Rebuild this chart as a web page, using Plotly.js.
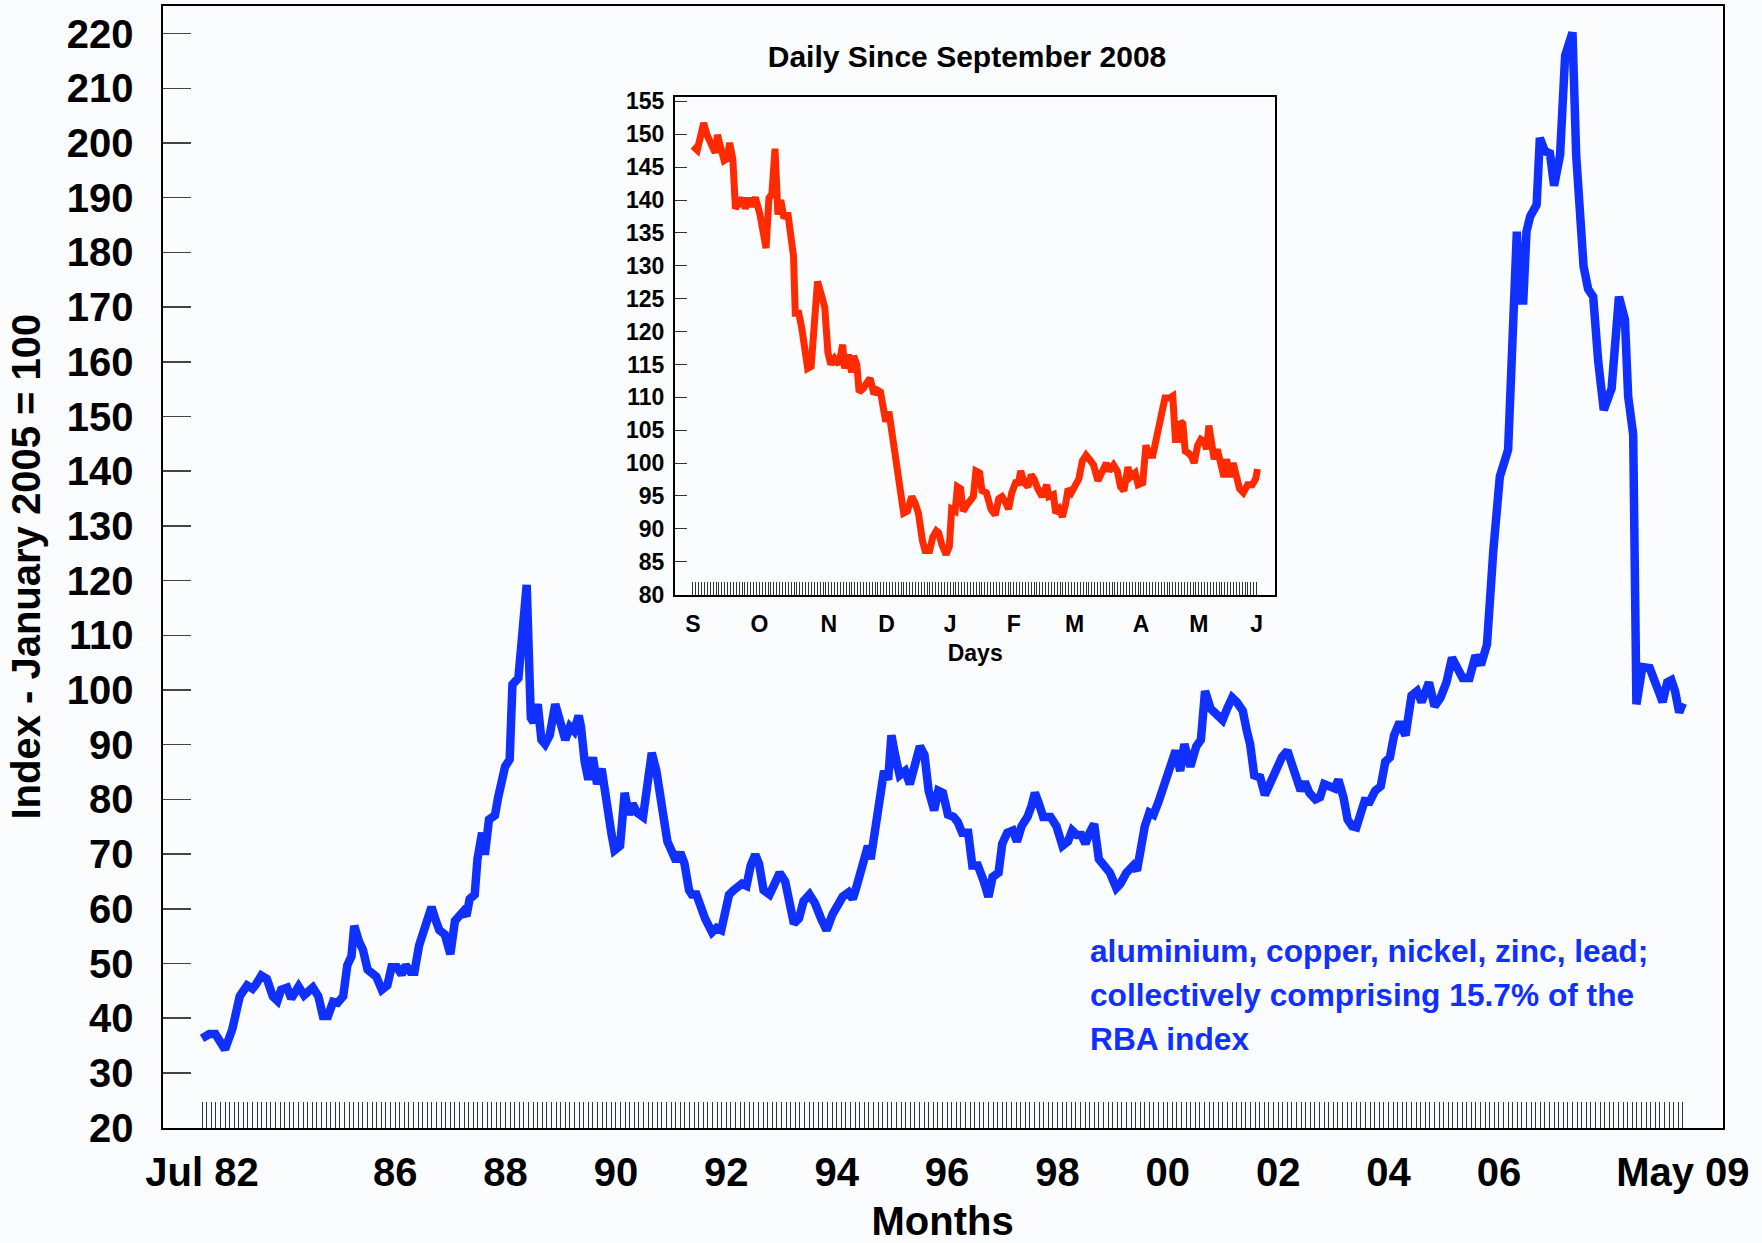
<!DOCTYPE html>
<html>
<head>
<meta charset="utf-8">
<script src="https://cdn.plot.ly/plotly-3.0.1.min.js"></script>
<style>html,body{margin:0;padding:0;background:#fafcfe;}</style>
</head>
<body>
<div id="chart" style="width:1762px;height:1243px;"></div>
<script>
// Monthly metals index (months since Jul 1982)
const monthIdx = [0,1.6,2.9,5,6.6,8.2,9.8,11,11.6,12.9,14.1,15.4,16.4,17.2,18.5,19.4,21,22.2,24.1,25.3,26.3,27.4,28.5,29.5,30.7,31.6,32.5,33.1,34.1,35,36,37.9,39.1,40.3,41.2,42.4,43.4,44.3,45.3,46.2,47.2,48.2,49.1,49.9,50.7,51.6,52.8,54,55,55.9,56.8,57.5,58.2,59.3,59.9,60.9,61.5,62.4,63.7,64.4,65.3,65.9,66.9,67.5,68.8,69.6,70.6,71.5,72.1,73,73.8,74.6,75.6,76.8,77.8,79,80,80.9,81.9,82.4,83.2,84,85,85.9,86.9,87.8,89,89.7,90.9,91.9,92.8,93.6,94.6,95.9,96.9,97.8,98.8,99.6,100.6,101.2,102.1,103.1,104,104.9,105.9,106.5,107.5,108.1,109.4,110.9,111.9,112.9,113.6,114.6,115.6,116.5,117.4,118.4,119.3,120.3,121.1,122.1,123.4,124.3,125.6,126.8,127.7,128.7,129.8,130.8,132.1,133.3,134.6,135.8,137.1,138.3,139.3,140.6,141.5,142.1,143.1,143.9,144.8,145.4,146.4,147.3,148.3,149.2,149.9,150.8,151.7,152.9,153.9,155.2,156.1,157.1,158,159.2,160.1,161.1,162.2,163.4,164.3,165.3,166.6,167.5,168.7,170,171,171.9,173.2,174,175.1,176.3,177.2,178.2,179.5,180.4,181.1,182,182.9,184.5,185.8,187.1,188.3,189.2,190.2,191.2,192.1,193,194,195,196.3,197.4,198.8,199.7,201,202.5,203.3,204.1,205,206,206.9,208,208.8,209.8,210.9,211.7,212.7,213.6,214.9,216.2,217.2,218.1,219.3,220.6,221.9,222.9,224,225,226.3,227.2,227.9,228.8,230.1,231.1,232.2,233.6,234.8,236,237,238.1,238.9,239.8,240.8,242.1,243.1,244,245.3,246.3,247.1,248.2,249.1,250.1,251,252,252.8,253.9,255.1,256.3,257.3,258.3,259.2,260.4,261.7,263,264.2,265.2,266.8,268,269.3,270.6,271.8,273.1,274.1,275.6,276.9,278.1,279.4,280.8,282.2,284,285.9,286.6,287.3,288,288.8,290.2,290.9,292,293.1,294,295.3,296.4,298,298.8,300.4,301.4,302.5,303.6,304.8,306.5,308.1,309.4,310.1,311.2,311.9,313.2,314.8,316.7,317.6,318.6,319.5,320.3,321.2,322];
const metalsIndex = [36.3,37.1,37.1,34.3,38,44,46,45.4,46,47.8,47.2,44,43.2,45.2,45.6,43.6,45.8,44.2,45.6,44,40.4,40.4,43,42.8,44,49.7,51.3,56.9,54.1,52.5,48.9,47.6,45.2,46,49.3,49.3,48,49.7,48.5,48.5,53.3,56.1,58.2,60.3,58.2,56.1,55.3,51.7,57.8,58.6,59.5,58.7,61.8,62.6,69.1,73.9,69.9,76.3,77.1,80.4,83.2,86,87.3,101,102.2,109.5,119.2,94.9,94.1,97.4,90.9,90.1,91.7,97.4,94.1,90.9,93.3,92.5,95.3,93.3,86.9,83.6,87.7,82.8,85.6,79.6,73.9,70.7,71.5,81.2,77.2,79.2,77.6,76.8,82.8,88.5,85.2,79.6,75.5,72.3,70.7,68.7,70.3,68.3,63.4,62.6,62.6,61,58.2,55.7,56.5,56.1,59.4,62.6,63.4,64.2,64.6,64.2,67.9,69.9,68.3,63.4,62.6,64.2,66.6,65,60.2,57.3,58.2,61.4,62.6,61,58.2,56.1,59,60.6,62.2,63,61.8,63.4,66.2,69.1,71.5,69.1,75.1,79.6,85.2,83.6,91.7,87.7,84.4,85.2,82.8,86.9,89.7,88.1,81.6,78,81.6,81.2,77.2,76.8,75.9,73.9,73.9,67.9,67.9,65,62.2,65.8,66.6,71.9,73.9,74.3,72.3,75.1,76.8,78.9,81.2,79.2,76.8,76.8,75.1,71.5,72.3,74.3,73.5,73.5,71.9,73.9,75.5,69.1,67.5,66.6,63.8,64.6,66.6,67.9,67,71.9,75.1,77.6,77.2,79.6,81.6,84,87.7,88.9,85.2,90.1,86,89.7,90.9,99.8,96.6,95.3,94.5,96.6,98.6,97.8,96.2,92.5,90.1,84.4,84,80.8,82.8,86,87.7,88.9,86,82.8,81.6,83.2,81.2,80,80.4,82.8,82.4,82,83.6,80.4,76.3,75.1,74.9,77.2,79.7,79.6,81.6,82.4,86.9,87.7,91.7,94.1,91.7,99,99.8,97.8,101.4,97,98.6,101.4,105.9,103.8,102.2,102.2,106.3,104.6,108.3,125.7,139,143.9,183.8,171.2,171.2,183.8,186.6,188.7,200.9,198.5,198.1,192.2,197.8,216,220.2,197.8,177.5,173.3,171.9,160,151.2,155.1,171.9,167.7,153.7,146.7,97.4,104.2,104,99.8,97.8,101.4,101.8,99.8,95.9,97.6];

// Daily index since September 2008 (trading days from 1 Sep 2008)
const dayIdx = [0,1.5,2.6,3.7,4.9,6.5,7.7,8.5,9.6,10.8,11.9,12.7,13.8,14.7,15.8,17,18.1,19.3,20.4,21.6,23.2,24.3,25.3,26.3,27.3,28.4,29.4,30.4,31.5,32.8,33.8,34.8,35.4,36.6,37.7,38.6,39.7,40.9,42,43.1,44.3,45.6,46.7,47.7,49,50.5,51.8,52.5,53.8,54.9,55.6,56.7,57.5,59,60.3,61.3,62.6,63.7,64.9,66,66.7,67.8,69.1,70.1,71.4,72.9,74.2,75.7,76.8,78,79.4,80.3,81.9,83,84.2,85,86.1,87.6,88.7,89.5,90.7,91.5,92.6,93.5,94.9,96.1,97,97.9,99.2,100,101.5,103.1,104.6,105.8,106.9,108.2,109.2,110.3,111.6,112.6,113.4,114.6,115.9,117,118,119.3,120.8,122.4,123.1,124.7,125.5,126.7,127.8,128.9,129.8,130.9,132.1,133.5,134.7,136,137.1,138.6,140.1,141.7,143,144,145.5,146.8,147.9,149.1,150.5,151.4,153,154,155.6,156.7,157.9,159.1,160.7,162.2,163.3,164.9,166,166.9,168,168.7,169.5,170.3,171.5,172.6,173.4,174.6,175.7,176.8,177.7,178.5,179.5,180.3,181.4,182.6,183.7,184.6,185.7,186.9,188,189.1,190.4,191.9,193.5,194.7,195.3];
const dailyIndex = [148.2,147.6,149.6,151.7,149.9,148.4,147.2,149.9,148.4,146,146.3,148.7,146.3,138.7,139.4,140.3,138.7,140.3,139,140.4,137.8,135.4,132.7,140.3,140.9,147.8,137.8,140,137.2,138.1,134.2,131.5,122.8,122.8,120.4,116.8,114.4,114.7,121.6,127.6,125.8,123.7,116.8,115,115.9,115,118,114.4,116.5,113.8,116.3,115,110.8,111.4,112.3,112.9,110.5,111.1,110.8,106.9,106.3,107.8,104.2,100,96.4,92.4,92.7,94.9,94,92.4,88.2,86.7,86.7,88.8,89.7,89.4,87.6,86.1,87.3,93,92.7,96.4,96.1,92.7,93.7,94.6,94.9,98.8,98.5,95.8,95.5,93,92.1,94.6,94.9,94,93,95.5,97,97,98.8,97,96.4,98.2,97.6,96.1,94.9,96.7,94.9,95.2,92.4,93,91.8,93.7,96.1,95.5,96.7,97.6,100.3,101.2,100.6,99.7,97.3,98.8,100,98.8,99.7,98.8,96.4,95.8,99.4,97.9,98.5,96.7,97,102.7,101.2,101.2,104.8,108.4,109.9,109.9,110.2,103.6,103.6,106.3,106,101.8,101.5,100.9,100,102.7,103.6,103.3,102.1,105.7,103.3,100.6,102.1,99.4,97.9,100.6,97.9,100,97.3,96.1,95.5,96.7,96.7,97.6,99.1];

// Tick labels
const mainTickMonths = [0,42,66,90,114,138,162,186,210,234,258,282,322];
const mainTickLabels = ['Jul 82','86','88','90','92','94','96','98','00','02','04','06','May 09'];
const mainYTicks = [20,30,40,50,60,70,80,90,100,110,120,130,140,150,160,170,180,190,200,210,220];
const insetTickDays = [0,23,47,67,89,111,132,155,175,195];
const insetTickLabels = ['S','O','N','D','J','F','M','A','M','J'];
const insetYTicks = [80,85,90,95,100,105,110,115,120,125,130,135,140,145,150,155];

// Monthly tick marks along the bottom (one per month) with labels at selected months
const mainTickVals = [], mainTickText = [];
for (let m = 0; m <= 322; m++) {
  mainTickVals.push(m);
  const k = mainTickMonths.indexOf(m);
  mainTickText.push(k >= 0 ? mainTickLabels[k] : '');
}
// Daily tick marks in the inset
const insetTickVals = [], insetTickText = [];
for (let d = 0; d <= 195; d++) {
  insetTickVals.push(d);
  const k = insetTickDays.indexOf(d);
  insetTickText.push(k >= 0 ? insetTickLabels[k] : '');
}

const FONT = 'Liberation Sans, Arial, Helvetica, sans-serif';
const BLUE = '#1030ff';
const RED = '#ff2a00';
const BG = '#fafcfe';

const traces = [
  {x: monthIdx, y: metalsIndex, type: 'scatter', mode: 'lines', xaxis: 'x', yaxis: 'y',
   line: {color: BLUE, width: 8.5, shape: 'linear'}, hoverinfo: 'skip'},
  {x: dayIdx, y: dailyIndex, type: 'scatter', mode: 'lines', xaxis: 'x2', yaxis: 'y2',
   line: {color: RED, width: 7}, hoverinfo: 'skip'}
];

const bold = (size, color) => ({family: FONT, size: size, color: color || '#000', weight: 'bold'});

const layout = {
  width: 1762, height: 1243,
  margin: {l: 0, r: 0, t: 0, b: 0, pad: 0},
  paper_bgcolor: BG, plot_bgcolor: BG,
  showlegend: false,
  font: {family: FONT, color: '#000'},
  title: {text: 'Daily Since September 2008', font: bold(30),
          x: 967 / 1762, xanchor: 'center', y: 1 - 56 / 1243, yanchor: 'middle'},
  xaxis: {
    domain: [162.5 / 1762, 1722.7 / 1762], anchor: 'y',
    range: [-8.59, 330.66],
    tickmode: 'array', tickvals: mainTickVals, ticktext: mainTickText, tickangle: 0,
    ticks: 'inside', ticklen: 26, tickwidth: 1, tickcolor: '#333',
    showline: true, linecolor: '#000', linewidth: 2, mirror: true,
    showgrid: false, zeroline: false,
    tickfont: bold(40), ticklabelstandoff: 8,
    title: {text: 'Months', font: bold(40), standoff: 14}
  },
  yaxis: {
    domain: [(1243 - 1127.6) / 1243, (1243 - 5.7) / 1243], anchor: 'x',
    range: [20, 225.1],
    tickmode: 'array', tickvals: mainYTicks,
    ticks: 'inside', ticklen: 28, tickwidth: 1.5, tickcolor: '#444',
    showline: true, linecolor: '#000', linewidth: 2, mirror: true,
    showgrid: false, zeroline: false,
    tickfont: bold(40), ticklabelstandoff: 19,
    title: {text: 'Index - January 2005 = 100', font: bold(40), standoff: 14}
  },
  xaxis2: {
    domain: [675 / 1762, 1275.4 / 1762], anchor: 'y2',
    range: [-6.2, 201.5],
    tickmode: 'array', tickvals: insetTickVals, ticktext: insetTickText, tickangle: 0,
    ticks: 'inside', ticklen: 12.7, tickwidth: 1, tickcolor: '#333',
    showline: true, linecolor: '#000', linewidth: 2, mirror: true,
    showgrid: false, zeroline: false,
    tickfont: bold(23), ticklabelstandoff: 8,
    title: {text: 'Days', font: bold(23), standoff: 9}
  },
  yaxis2: {
    domain: [(1243 - 594.6) / 1243, (1243 - 96.8) / 1243], anchor: 'x2',
    range: [80, 155.7],
    tickmode: 'array', tickvals: insetYTicks,
    ticks: 'inside', ticklen: 12, tickwidth: 1, tickcolor: '#333',
    showline: true, linecolor: '#000', linewidth: 2, mirror: true,
    showgrid: false, zeroline: false,
    tickfont: bold(23), ticklabelstandoff: 4
  },
  annotations: [
    {text: 'aluminium, copper, nickel, zinc, lead;', xref: 'paper', yref: 'paper',
     x: 1088 / 1762, y: 1 - 951 / 1243, xanchor: 'left', yanchor: 'middle', showarrow: false,
     font: bold(31.7, BLUE)},
    {text: 'collectively comprising 15.7% of the', xref: 'paper', yref: 'paper',
     x: 1088 / 1762, y: 1 - 995 / 1243, xanchor: 'left', yanchor: 'middle', showarrow: false,
     font: bold(31.7, BLUE)},
    {text: 'RBA index', xref: 'paper', yref: 'paper',
     x: 1088 / 1762, y: 1 - 1038.5 / 1243, xanchor: 'left', yanchor: 'middle', showarrow: false,
     font: bold(31.7, BLUE)}
  ]
};

Plotly.newPlot('chart', traces, layout, {staticPlot: true, displayModeBar: false});
</script>
</body>
</html>
